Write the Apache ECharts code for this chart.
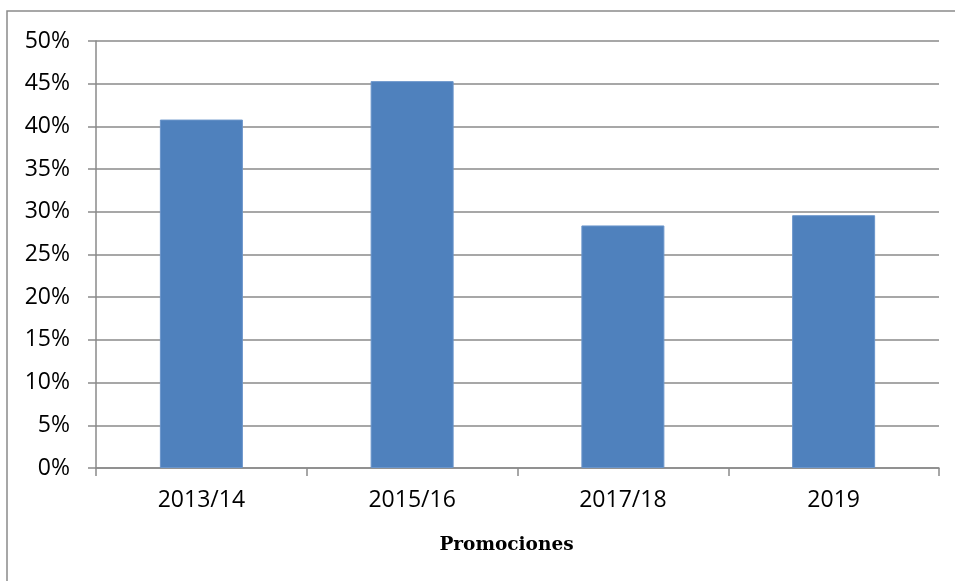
<!DOCTYPE html>
<html>
<head>
<meta charset="utf-8">
<script src="https://cdn.jsdelivr.net/npm/echarts@6/dist/echarts.min.js"></script>
<style>
html,body{margin:0;padding:0;background:#fff;}
#c{width:955px;height:581px;}
</style>
</head>
<body>
<div id="c"></div>
<script>
const categories = ['2013/14', '2015/16', '2017/18', '2019'];
const values = [40.8, 45.3, 28.4, 29.6];
const yTicks = { min: 0, max: 50, interval: 5 };
const axisTitle = 'Promociones';

const chart = echarts.init(document.getElementById('c'), null, { renderer: 'canvas' });
const gray = '#8a8a8a';
chart.setOption({
  animation: false,
  backgroundColor: '#fff',
  graphic: [{
    type: 'rect',
    shape: { x: 7, y: 11, width: 3000, height: 3000 },
    style: { fill: 'none', stroke: gray, lineWidth: 1.5 },
    silent: true
  }],
  grid: { left: 96, right: 16, top: 41, bottom: 113, containLabel: false },
  xAxis: {
    type: 'category',
    data: categories,
    name: axisTitle,
    nameLocation: 'middle',
    nameGap: 68,
    nameTextStyle: { fontFamily: 'DejaVu Serif', fontWeight: 'bold', fontSize: 18.5, color: '#000', padding: [0, 22, 0, 0] },
    axisLine: { show: true, lineStyle: { color: gray, width: 1.5 } },
    axisTick: { show: true, length: 8, lineStyle: { color: gray, width: 1.5 } },
    axisLabel: { fontFamily: 'Open Sans', fontSize: 23, color: '#000', margin: 21 },
    splitLine: { show: false }
  },
  yAxis: {
    type: 'value',
    min: yTicks.min,
    max: yTicks.max,
    interval: yTicks.interval,
    axisLine: { show: true, lineStyle: { color: gray, width: 1.5 } },
    axisTick: { show: true, length: 8, lineStyle: { color: gray, width: 1.5 } },
    axisLabel: { fontFamily: 'Open Sans', fontSize: 23, color: '#000', margin: 26, formatter: '{value}%' },
    splitLine: { show: true, lineStyle: { color: gray, width: 1.5 } }
  },
  series: [{
    type: 'bar',
    data: values,
    barWidth: 83,
    itemStyle: { color: '#4F81BD', borderColor: '#6a95cb', borderWidth: 1 }
  }]
});
</script>
</body>
</html>
